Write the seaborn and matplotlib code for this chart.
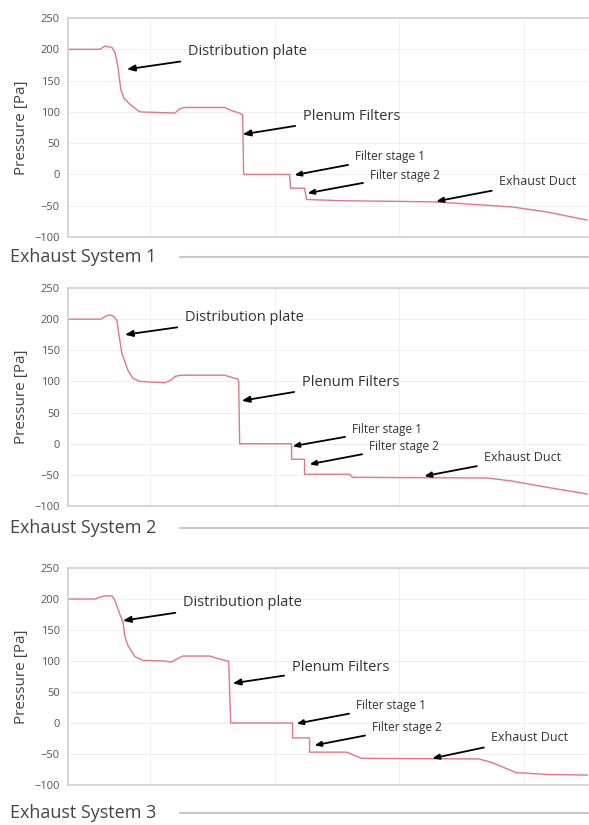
import pandas as pd
import matplotlib.pyplot as plt
import seaborn as sns
from matplotlib.lines import Line2D

# distance along the exhaust path (arbitrary units) and pressure [Pa]
x1 = [0, 32, 37, 44, 47, 50, 53, 56, 62, 72, 107, 112, 117, 157, 164, 172, 175, 176,
      222, 223, 237, 239, 272, 330, 369, 445, 480, 520]
p1 = [200, 200, 205, 203, 195, 172, 135, 122, 112, 100, 98, 105, 107, 107, 102, 98, 95, 0,
      0, -22, -22, -40, -42, -43, -44, -52, -60, -73]

x2 = [0, 33, 38, 42, 46, 49, 51, 54, 60, 65, 72, 97, 103, 107, 113, 157, 165, 170, 171, 172,
      224, 224, 237, 237, 282, 285, 420, 445, 480, 521]
p2 = [200, 200, 205, 207, 204, 198, 175, 145, 118, 105, 100, 98, 102, 108, 110, 110, 106, 104, 100, 0,
      0, -25, -25, -49, -49, -54, -55, -60, -70, -81]

x3 = [0, 27, 32, 37, 44, 47, 52, 55, 57, 60, 67, 75, 97, 103, 110, 115, 142, 150, 160, 161, 163,
      225, 225, 242, 242, 279, 294, 412, 425, 449, 480, 521]
p3 = [200, 200, 203, 205, 205, 198, 175, 163, 140, 125, 107, 101, 100, 98, 104, 108, 108, 104, 100, 99, 0,
      0, -24, -24, -47, -47, -57, -58, -64, -80, -83, -84]

systems = ["Exhaust System 1", "Exhaust System 2", "Exhaust System 3"]
labels = ["Distribution plate", "Plenum Filters", "Filter stage 1", "Filter stage 2", "Exhaust Duct"]
label_sizes = [10.5, 10.5, 8.5, 8.5, 9]

# arrow tips and text anchors per panel (data coords)
tips = [
    [(59, 168), (175, 64), (227, -1), (240, -30), (369, -43)],
    [(57, 175), (174, 69), (225, -4), (242, -33), (357, -52)],
    [(55, 165), (165, 64), (229, -1), (247, -36), (365, -57)],
]
texts = [
    [(120, 196), (235, 92), (288, 28), (303, -1), (432, -12)],
    [(117, 202), (234, 98), (285, 23), (302, -4), (417, -22)],
    [(115, 194), (224, 90), (289, 28), (305, -7), (424, -24)],
]

sns.set_theme(style="whitegrid")
plt.rcParams['font.family'] = ['Open Sans', 'DejaVu Sans']

fig = plt.figure(figsize=(5.89, 8.25), dpi=100)
W, H = 589, 825
panels = [(18, 237, 257), (288, 506, 528), (568, 785, 813)]

data = [(x1, p1), (x2, p2), (x3, p3)]
for i, ((top, bot, lab_y), (xs, ps)) in enumerate(zip(panels, data)):
    ax = fig.add_axes([68 / W, 1 - bot / H, 520 / W, (bot - top) / H])
    df = pd.DataFrame({"x": xs, "p": ps})
    sns.lineplot(data=df, x="x", y="p", ax=ax, sort=False, estimator=None,
                 color="#e47585", lw=1.0)
    ax.set_xlim(0, 521)
    ax.set_ylim(-100, 250)
    ax.set_yticks(range(-100, 251, 50))
    ax.set_xticks([82, 207, 332, 457])
    ax.set_xticklabels([])
    ax.set_xlabel("")
    ax.set_ylabel("Pressure [Pa]", fontsize=11, color="#444444", labelpad=4)
    ax.tick_params(axis="y", labelsize=8, colors="#555555", length=0, pad=6)
    ax.tick_params(axis="x", length=0)
    ax.grid(True, color="#f0f0f0", lw=0.8)
    for side in ["top", "bottom", "left"]:
        ax.spines[side].set_color("#cfcfcf")
        ax.spines[side].set_linewidth(1.2)
    ax.spines["right"].set_visible(False)

    for lab, sz, tip, txt in zip(labels, label_sizes, tips[i], texts[i]):
        ax.annotate(lab, xy=tip, xytext=txt, ha="left", va="center",
                    fontsize=sz, color="#333333",
                    arrowprops=dict(arrowstyle="-|>,head_length=0.45,head_width=0.18",
                                    color="black", lw=1.3, shrinkA=3, shrinkB=0))

    fig.text(10 / W, 1 - lab_y / H, systems[i], fontsize=13, color="#444444",
             ha="left", va="center")
    fig.add_artist(Line2D([180 / W, 588 / W], [1 - lab_y / H, 1 - lab_y / H],
                          color="#c8c8c8", lw=1.5))

fig.savefig("out.png", dpi=100)
